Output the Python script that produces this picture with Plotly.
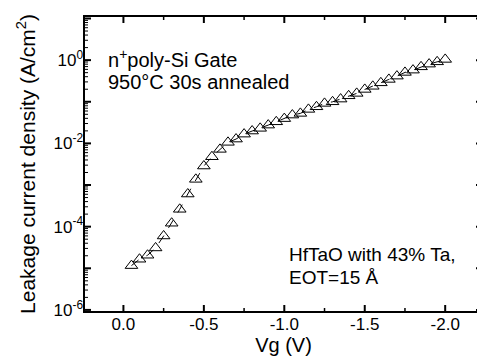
import plotly.graph_objects as go

# Data
vg = [-0.05, -0.10, -0.15, -0.20, -0.25, -0.30, -0.35, -0.40, -0.45, -0.50,
      -0.55, -0.60, -0.65, -0.70, -0.75, -0.80, -0.85, -0.90, -0.95, -1.00,
      -1.05, -1.10, -1.15, -1.20, -1.25, -1.30, -1.35, -1.40, -1.45, -1.50,
      -1.55, -1.60, -1.65, -1.70, -1.75, -1.80, -1.85, -1.90, -1.95, -2.00]
jleak = [1.16e-5, 1.65e-5, 2.06e-5, 3.08e-5, 5.97e-5, 1.21e-4, 2.61e-4, 6.08e-4, 1.37e-3, 2.86e-3,
         4.78e-3, 7.19e-3, 1.06e-2, 1.27e-2, 1.67e-2, 1.98e-2, 2.30e-2, 2.75e-2, 3.30e-2, 3.94e-2,
         4.79e-2, 5.26e-2, 6.56e-2, 7.57e-2, 9.14e-2, 9.98e-2, 0.116, 0.139, 0.159, 0.198,
         0.235, 0.285, 0.344, 0.413, 0.507, 0.575, 0.690, 0.802, 0.910, 1.04]

x_tick_vals = [0.0, -0.5, -1.0, -1.5, -2.0]
x_tick_text = ["0.0", "-0.5", "-1.0", "-1.5", "-2.0"]
x_minor_vals = [0.25, -0.25, -0.75, -1.25, -1.75]
y_major_vals = [1e-6, 1e-4, 1e-2, 1e0]
y_tick_text = ["10<sup>-6</sup>", "10<sup>-4</sup>", "10<sup>-2</sup>", "10<sup>0</sup>"]
y_decades = [1e-6, 1e-5, 1e-4, 1e-3, 1e-2, 1e-1, 1e0, 1e1]

FONT = "Liberation Sans, Arial, sans-serif"
X_RANGE = [0.245, -2.235]
Y_RANGE = [-6.05, 1.06]

# figure geometry (page body adds an 8px offset)
W, H = 477, 356
ML, MR, MT, MB = 76, 2, 8, 52
PW, PH = W - ML - MR, H - MT - MB
PX_PER_X = PW / abs(X_RANGE[1] - X_RANGE[0])
PX_PER_DEC = PH / (Y_RANGE[1] - Y_RANGE[0])
LINE_SYM = 1.4  # plotly draws line-* symbols 1.4x the marker size

y_minor_vals = [m * d for d in y_decades for m in range(2, 10) if m * d < 10 ** Y_RANGE[1]]

fig = go.Figure()
fig.add_trace(go.Scatter(
    x=vg, y=jleak, mode="lines+markers",
    line=dict(color="black", width=1, dash="dash"),
    marker=dict(symbol="triangle-up-open", size=11, color="black", line=dict(width=1, color="black")),
    showlegend=False,
))


def line_marks(xs, ys, symbol, length, width):
    fig.add_trace(go.Scatter(
        x=xs, y=ys, mode="markers", cliponaxis=False, showlegend=False, hoverinfo="skip",
        marker=dict(symbol=symbol, size=length / LINE_SYM, color="black",
                    line=dict(width=width, color="black")),
    ))


# frame
xc = (X_RANGE[0] + X_RANGE[1]) / 2
yc = 10 ** ((Y_RANGE[0] + Y_RANGE[1]) / 2)
line_marks([xc, xc], [10 ** Y_RANGE[0], 10 ** Y_RANGE[1]], "line-ew", PW + 2, 2)
line_marks([X_RANGE[0], X_RANGE[1]], [yc, yc], "line-ns", PH + 2, 2)

# x ticks (inside, bottom + top)
for vals, ln, wd in ((x_tick_vals, 7, 2), (x_minor_vals, 4, 1.5)):
    off = (ln / 2) / PX_PER_DEC
    line_marks(vals, [10 ** (Y_RANGE[0] + off)] * len(vals), "line-ns", ln, wd)
    line_marks(vals, [10 ** (Y_RANGE[1] - off)] * len(vals), "line-ns", ln, wd)

# y ticks (inside, left + right)
for vals, ln, wd in ((y_decades, 7, 2), (y_minor_vals, 4, 1)):
    off = (ln / 2) / PX_PER_X
    line_marks([X_RANGE[0] - off] * len(vals), vals, "line-ew", ln, wd)
    line_marks([X_RANGE[1] + off] * len(vals), vals, "line-ew", ln, wd)

common = dict(showgrid=False, zeroline=False, showline=False,
              ticks="inside", ticklen=6, tickcolor="rgba(0,0,0,0)")

fig.update_layout(
    width=W, height=H,
    margin=dict(l=ML, r=MR, t=MT, b=MB),
    paper_bgcolor="white", plot_bgcolor="white",
    font=dict(family=FONT, color="black", size=16),
    xaxis=dict(
        range=X_RANGE, automargin=False,
        tickmode="array", tickvals=x_tick_vals, ticktext=x_tick_text,
        tickfont=dict(size=17),
        title=dict(text="Vg (V)", font=dict(size=20), standoff=2),
        **common,
    ),
    yaxis=dict(
        type="log", range=Y_RANGE, automargin=False,
        tickmode="array", tickvals=y_major_vals, ticktext=y_tick_text,
        tickfont=dict(size=17),
        title=dict(text="Leakage current density (A/cm<sup>2</sup>)", font=dict(size=21), standoff=12),
        **common,
    ),
)

fig.add_annotation(xref="paper", yref="paper", x=0.055, y=0.858, xanchor="left", yanchor="middle",
                   text="n<sup>+</sup>poly-Si Gate", showarrow=False, font=dict(size=20))
fig.add_annotation(xref="paper", yref="paper", x=0.055, y=0.777, xanchor="left", yanchor="middle",
                   text="950\u00b0C 30s annealed", showarrow=False, font=dict(size=20))
fig.add_annotation(xref="paper", yref="paper", x=0.51, y=0.193, xanchor="left", yanchor="middle",
                   text="HfTaO with 43% Ta,", showarrow=False, font=dict(size=19))
fig.add_annotation(xref="paper", yref="paper", x=0.51, y=0.118, xanchor="left", yanchor="middle",
                   text="EOT=15 \u00c5", showarrow=False, font=dict(size=19))

fig.write_html("out.html")
